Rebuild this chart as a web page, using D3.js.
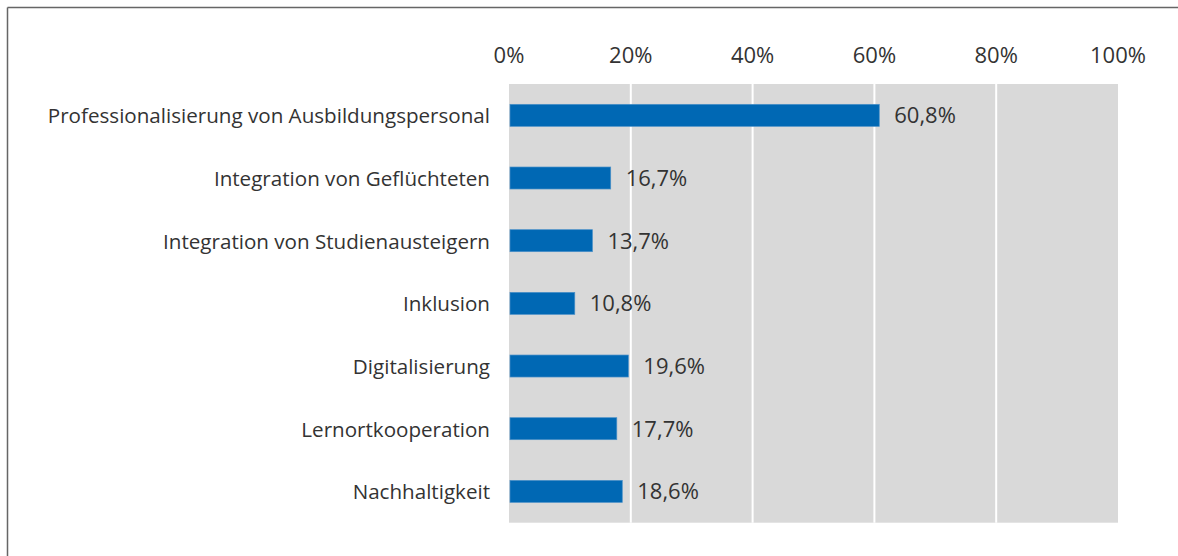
<!DOCTYPE html>
<html>
<head>
<meta charset="utf-8">
<script src="https://cdn.jsdelivr.net/npm/d3@7.9.0/dist/d3.min.js"></script>
<style>
  body { margin: 0; background: #fff; }
  svg { display: block; font-family: "Open Sans", sans-serif; }
</style>
</head>
<body>
<svg id="chart" width="1178" height="556"></svg>
<script>
const categories = [
    'Professionalisierung von Ausbildungspersonal',
    'Integration von Geflüchteten',
    'Integration von Studienausteigern',
    'Inklusion',
    'Digitalisierung',
    'Lernortkooperation',
    'Nachhaltigkeit'
];
const values = [60.8, 16.7, 13.7, 10.8, 19.6, 17.7, 18.6];
const ticks = [0, 20, 40, 60, 80, 100];

const svg = d3.select('#chart');
const labelSize = 20.6;
const numSize = 22;

// frame lines (top + left)
svg.append('line').attr('x1', 7.5).attr('x2', 1178).attr('y1', 7.5).attr('y2', 7.5)
    .attr('stroke', '#666').attr('stroke-width', 1.5);
svg.append('line').attr('x1', 7.5).attr('x2', 7.5).attr('y1', 7.5).attr('y2', 556)
    .attr('stroke', '#666').attr('stroke-width', 1.5);

let x = d3.scaleLinear().domain([0, 100]).range([509, 1118]);
let y = d3.scaleBand().domain(categories).range([84, 522.7]).paddingInner(0.649).paddingOuter(0.3245);

// plot background
svg.append('rect')
    .attr('x', x(0)).attr('y', 84)
    .attr('width', x(100) - x(0)).attr('height', 522.7 - 84)
    .attr('fill', '#d9d9d9');

// gridlines
svg.selectAll('.grid').data(ticks.slice(1, -1)).join('line')
    .attr('class', 'grid')
    .attr('x1', d => x(d)).attr('x2', d => x(d))
    .attr('y1', 84).attr('y2', 522.7)
    .attr('stroke', '#fff').attr('stroke-width', 2);

// tick labels on top
svg.selectAll('.tick').data(ticks).join('text')
    .attr('class', 'tick')
    .attr('x', d => x(d)).attr('y', 63)
    .attr('text-anchor', 'middle')
    .attr('font-size', numSize).attr('fill', '#333')
    .text(d => d + '%');

// bars
svg.selectAll('.bar').data(values).join('rect')
    .attr('class', 'bar')
    .attr('x', x(0) + 1)
    .attr('y', (d, i) => y(categories[i]))
    .attr('width', d => x(d) - x(0) - 1)
    .attr('height', y.bandwidth())
    .attr('fill', '#0068b4')
    .attr('stroke', '#4a90c8').attr('stroke-width', 0.7);

// value labels
svg.selectAll('.val').data(values).join('text')
    .attr('class', 'val')
    .attr('x', d => x(d) + 15)
    .attr('y', (d, i) => y(categories[i]) + y.bandwidth() / 2)
    .attr('dy', '0.36em')
    .attr('font-size', numSize).attr('fill', '#333')
    .text(d => d3.format('.1f')(d).replace('.', ',') + '%');

// category labels
svg.selectAll('.cat').data(categories).join('text')
    .attr('class', 'cat')
    .attr('x', 490)
    .attr('y', d => y(d) + y.bandwidth() / 2)
    .attr('dy', '0.38em')
    .attr('text-anchor', 'end')
    .attr('font-size', labelSize).attr('fill', '#333')
    .text(d => d);
</script>
</body>
</html>
